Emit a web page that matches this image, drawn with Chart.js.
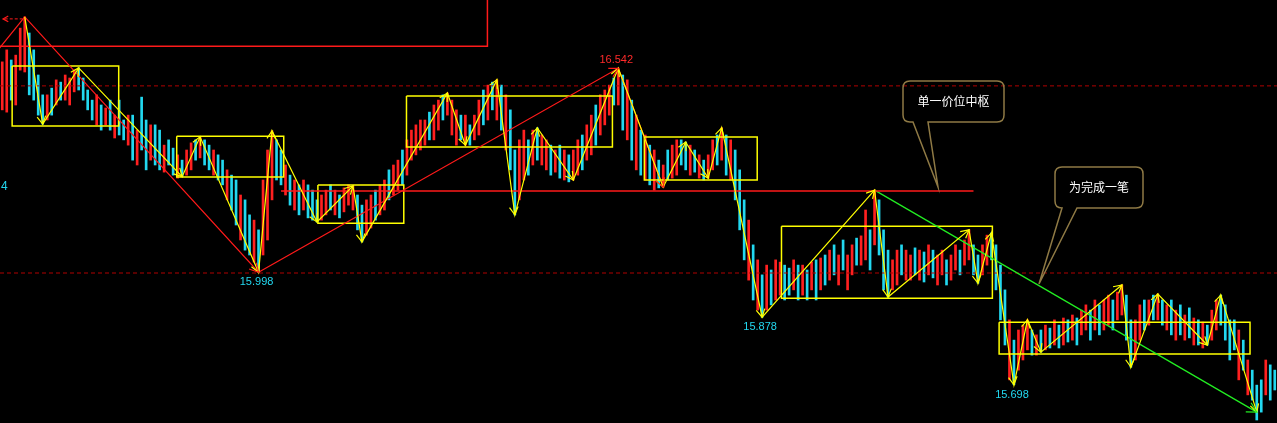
<!DOCTYPE html>
<html><head><meta charset="utf-8">
<script src="https://cdn.jsdelivr.net/npm/chart.js@4/dist/chart.umd.min.js"></script>
<style>html,body{margin:0;padding:0;background:#000;overflow:hidden}#wrap{width:1277px;height:423px;position:relative}</style>
</head><body><div id="wrap"><canvas id="c"></canvas></div>
<script>
// ---- data ----
const highs=[16.559,16.591,16.564,16.577,16.649,16.679,16.636,16.591,16.524,16.471,
16.471,16.489,16.511,16.505,16.524,16.516,16.537,16.543,16.516,16.484,
16.457,16.471,16.444,16.436,16.457,16.417,16.457,16.404,16.417,16.417,
16.377,16.465,16.404,16.391,16.391,16.377,16.337,16.351,16.329,16.311,
16.297,16.324,16.343,16.351,16.359,16.351,16.337,16.324,16.311,16.297,
16.271,16.257,16.244,16.204,16.191,16.151,16.137,16.111,16.244,16.324,
16.375,16.351,16.324,16.284,16.257,16.244,16.231,16.244,16.231,16.217,
16.191,16.204,16.217,16.231,16.217,16.204,16.223,16.231,16.228,16.204,
16.177,16.191,16.204,16.217,16.231,16.244,16.271,16.284,16.297,16.324,
16.351,16.377,16.391,16.404,16.404,16.425,16.444,16.457,16.471,16.476,
16.457,16.431,16.417,16.417,16.391,16.417,16.457,16.484,16.497,16.505,
16.511,16.497,16.471,16.431,16.324,16.351,16.377,16.351,16.377,16.383,
16.364,16.351,16.337,16.324,16.337,16.324,16.311,16.324,16.351,16.364,
16.391,16.417,16.444,16.471,16.484,16.497,16.516,16.542,16.524,16.511,
16.457,16.417,16.377,16.364,16.337,16.324,16.297,16.284,16.324,16.337,
16.351,16.351,16.345,16.337,16.324,16.311,16.297,16.311,16.351,16.364,
16.383,16.364,16.351,16.324,16.271,16.191,16.137,16.071,16.031,15.991,
16.017,16.004,16.031,16.025,16.017,16.009,16.031,16.017,16.017,16.004,
16.025,16.031,16.036,16.044,16.057,16.071,16.044,16.084,16.044,16.071,
16.089,16.095,16.164,16.111,16.217,16.191,16.111,16.057,16.031,16.057,
16.071,16.057,16.044,16.063,16.057,16.052,16.071,16.057,16.044,16.057,
16.031,16.044,16.071,16.057,16.084,16.111,16.071,16.044,16.071,16.097,
16.103,16.071,16.017,15.951,15.871,15.817,15.844,15.857,15.871,15.844,
15.831,15.844,15.857,15.849,15.871,15.857,15.876,15.871,15.884,15.876,
15.897,15.911,15.897,15.924,15.911,15.924,15.937,15.924,15.945,15.964,
15.937,15.871,15.871,15.911,15.924,15.924,15.937,15.940,15.924,15.911,
15.924,15.897,15.911,15.884,15.903,15.876,15.871,15.865,15.857,15.897,
15.924,15.937,15.911,15.871,15.871,15.844,15.817,15.764,15.737,15.697,
15.711,15.764,15.751,15.737];
const lows=[16.431,16.425,16.457,16.444,16.537,16.532,16.471,16.457,16.417,16.393,
16.404,16.417,16.444,16.457,16.457,16.444,16.479,16.484,16.457,16.431,
16.404,16.391,16.377,16.391,16.377,16.356,16.364,16.351,16.337,16.297,
16.284,16.324,16.271,16.297,16.284,16.271,16.265,16.284,16.257,16.249,
16.253,16.257,16.271,16.297,16.303,16.284,16.271,16.257,16.244,16.231,
16.191,16.164,16.124,16.084,16.057,16.044,16.025,15.998,16.044,16.084,
16.191,16.244,16.231,16.204,16.177,16.164,16.151,16.164,16.143,16.137,
16.132,16.137,16.151,16.164,16.151,16.143,16.159,16.177,16.164,16.111,
16.079,16.097,16.116,16.137,16.151,16.164,16.191,16.204,16.217,16.231,
16.257,16.297,16.311,16.324,16.337,16.351,16.351,16.377,16.404,16.417,
16.364,16.337,16.351,16.337,16.337,16.351,16.364,16.391,16.404,16.431,
16.404,16.377,16.324,16.271,16.151,16.191,16.244,16.257,16.284,16.297,
16.284,16.271,16.257,16.265,16.249,16.244,16.239,16.244,16.257,16.271,
16.297,16.311,16.337,16.364,16.391,16.417,16.444,16.444,16.377,16.351,
16.297,16.271,16.257,16.244,16.231,16.217,16.223,16.225,16.244,16.249,
16.257,16.284,16.271,16.257,16.265,16.249,16.244,16.249,16.271,16.284,
16.297,16.257,16.244,16.191,16.111,16.031,15.977,15.924,15.897,15.878,
15.897,15.911,15.924,15.937,15.924,15.937,15.951,15.924,15.937,15.924,
15.951,15.924,15.951,15.964,15.977,15.991,15.964,16.004,15.951,15.991,
16.017,16.017,16.031,16.004,16.071,16.044,15.951,15.932,15.951,15.964,
15.991,15.977,15.977,15.991,15.977,15.972,15.991,15.983,15.964,15.991,
15.964,15.977,16.004,15.991,16.017,16.031,15.991,15.969,15.991,16.017,
16.031,15.951,15.871,15.804,15.711,15.698,15.737,15.764,15.791,15.777,
15.777,15.785,15.791,15.796,15.804,15.796,15.804,15.812,15.817,15.804,
15.831,15.844,15.817,15.844,15.831,15.844,15.857,15.844,15.871,15.884,
15.817,15.745,15.764,15.817,15.844,15.857,15.871,15.871,15.857,15.844,
15.831,15.817,15.831,15.817,15.823,15.804,15.804,15.796,15.804,15.817,
15.844,15.857,15.817,15.764,15.791,15.711,15.737,15.671,15.657,15.604,
15.625,15.671,15.657,15.684];
const rising=[1,1,0,1,1,1,0,0,0,0, 1,0,1,0,1,1,1,0,0,0, 0,1,0,1,0,1,0,0,1,0,
1,0,0,1,0,0,1,0,0,1, 0,1,1,0,1,0,0,1,0,0, 1,0,0,1,0,0,1,0,1,1,
1,0,0,1,0,1,0,1,0,0, 0,1,1,0,1,0,1,1,1,0, 0,1,1,0,1,1,0,1,1,0,
1,1,1,1,1,0,1,1,0,1, 1,1,0,1,0,1,1,0,1,0, 1,0,1,0,0,1,1,0,1,0,
1,1,0,1,0,1,0,1,1,0, 1,1,0,1,1,1,0,1,0,1, 0,1,0,1,0,1,0,1,0,1,
1,0,0,1,0,1,0,1,1,0, 1,0,1,0,0,0,1,0,1,0, 1,0,1,1,0,0,1,0,1,0,
1,0,1,0,1,0,1,0,1,1, 0,1,1,0,1,0,0,0,1,1, 0,1,1,0,1,0,1,0,1,1,
0,1,1,0,1,1,0,0,1,1, 0,0,0,0,1,0,1,1,1,0, 1,0,1,0,1,0,1,0,1,0,
1,1,0,1,0,1,1,0,1,1, 0,0,1,1,0,1,0,1,0,1, 0,1,0,1,0,1,0,1,0,1,
1,0,0,0,0,1,0,1,0,0, 0,1,0,0];
// strokes (bi): [bar index, price]
const biPoints=[[5,16.679],[9,16.393],[17,16.543],[40,16.253],[44,16.359],[57,15.998],[60,16.375],
[70,16.132],[78,16.228],[80,16.079],[99,16.476],[103,16.337],[110,16.511],[114,16.151],[119,16.383],
[127,16.244],[137,16.542],[147,16.225],[152,16.345],[157,16.249],[160,16.383],[169,15.878],[194,16.217],
[197,15.932],[215,16.111],[217,15.969],[220,16.103],[225,15.698],[228,15.871],[231,15.785],[249,15.964],
[251,15.745],[257,15.940],[268,15.804],[271,15.937],[279,15.625]];
// segments (red)
const segPoints=[[-1,16.59],[5,16.679],[57,15.998],[137,16.542],[147,16.225]];
const levelLine=[[62,16.215],[216,16.215]];
const pendingSeg=[[194,16.217],[279,15.625]];
// pivots (zhongshu): [startIdx, endIdx, low, high]
const zhongshu=[[2.2,25.9,16.388,16.548],[38.8,62.6,16.252,16.361],[70.2,89.3,16.129,16.231],
[89.9,135.7,16.332,16.468],[142.8,167.9,16.244,16.359],[173.3,220.2,15.929,16.121],[221.7,277.5,15.780,15.865]];
const refLevels=[16.495,15.996];
const topBox={xEnd:107.9, price:16.601};
const extremeLabels=[[137,16.542,'up','#ff2a2a'],[57,15.998,'down','#22d8f0'],[169,15.878,'down','#22d8f0'],[225,15.698,'down','#22d8f0']];
const notes=[{text:'单一价位中枢',box:[903,81,1004,122],tail:[913,928,938,187]},
             {text:'为完成一笔',box:[1055,167,1143,208],tail:[1062,1077,1039,284]}];

// ---- build ----
const N=highs.length;
const candleData=highs.map((h,i)=>({x:i,y:[lows[i],h]}));
const candleColors=rising.map(r=>r?'#ff2020':'#22d8f0');
const toXY=a=>a.map(p=>({x:p[0],y:p[1]}));
const lineDs=(pts,color,w,order,dash)=>({type:'line',data:toXY(pts),borderColor:color,borderWidth:w,
  pointRadius:0,tension:0,fill:false,order:order,borderDash:dash||[],clip:false});
const datasets=[{type:'bar',data:candleData,backgroundColor:candleColors,borderWidth:0,barThickness:2,order:10,grouped:false}];
refLevels.forEach(v=>datasets.push(lineDs([[-0.5,v],[N-0.5,v]],'#b00000',1,9,[4,3])));
datasets.push(lineDs([[-0.5,topBox.price],[topBox.xEnd,topBox.price],[topBox.xEnd,16.75]],'#ff1a1a',1.5,5));
zhongshu.forEach(z=>datasets.push(lineDs([[z[0],z[3]],[z[1],z[3]],[z[1],z[2]],[z[0],z[2]],[z[0],z[3]]],'#ffff00',1.5,4)));
datasets.push(lineDs(segPoints,'#ff1a1a',1.2,3));
datasets.push(lineDs(levelLine,'#ff1a1a',1.5,3));
datasets.push(lineDs(pendingSeg,'#22ee22',1.2,3));
datasets.push(lineDs(biPoints,'#ffff00',1.2,1));

function arrowHead(ctx,x0,y0,x1,y1,len,color){
  const a=Math.atan2(y1-y0,x1-x0);
  ctx.save();ctx.strokeStyle=color;ctx.lineWidth=1.2;ctx.setLineDash([]);
  ctx.beginPath();
  ctx.moveTo(x1-len*Math.cos(a-0.5),y1-len*Math.sin(a-0.5));
  ctx.lineTo(x1,y1);
  ctx.lineTo(x1-len*Math.cos(a+0.5),y1-len*Math.sin(a+0.5));
  ctx.stroke();ctx.restore();
}
const overlay={id:'overlay',afterDatasetsDraw(chart){
  const ctx=chart.ctx,xs=chart.scales.x,ys=chart.scales.y;
  const P=p=>[xs.getPixelForValue(p[0]),ys.getPixelForValue(p[1])];
  for(let i=1;i<biPoints.length;i++){const a=P(biPoints[i-1]),b=P(biPoints[i]);arrowHead(ctx,a[0],a[1],b[0],b[1],9,'#ffff00');}
  for(let i=2;i<segPoints.length;i++){const a=P(segPoints[i-1]),b=P(segPoints[i]);arrowHead(ctx,a[0],a[1],b[0],b[1],10,'#ff1a1a');}
  {const a=P(pendingSeg[0]),b=P(pendingSeg[1]);arrowHead(ctx,a[0],a[1],b[0],b[1],11,'#22ee22');}
  // continuation arrow top-left
  {const s=P(segPoints[1]);ctx.save();ctx.strokeStyle='#ff1a1a';ctx.lineWidth=1;ctx.setLineDash([3,2]);
   ctx.beginPath();ctx.moveTo(s[0]-2,s[1]+2);ctx.lineTo(4,s[1]+2);ctx.stroke();ctx.restore();
   arrowHead(ctx,s[0],s[1]+2,3,s[1]+2,6,'#ff1a1a');}
  // labels
  ctx.save();ctx.font='11px "Liberation Sans", Arial, sans-serif';ctx.textAlign='center';ctx.textBaseline='middle';
  extremeLabels.forEach(l=>{const p=P(l);ctx.fillStyle=l[3];ctx.fillText(l[1].toFixed(3),p[0]-2,l[2]==='up'?p[1]-8:p[1]+10);});
  ctx.fillStyle='#22d8f0';ctx.font='12px "Liberation Sans", Arial, sans-serif';ctx.textAlign='left';ctx.fillText('4',1,187);
  ctx.restore();
  // callouts
  notes.forEach(n=>{
    const [x1,y1,x2,y2]=n.box,r=7,[t1,t2,tx,ty]=n.tail;
    ctx.save();ctx.strokeStyle='#8f7a45';ctx.lineWidth=1.5;ctx.beginPath();
    ctx.moveTo(x1+r,y1);ctx.lineTo(x2-r,y1);ctx.quadraticCurveTo(x2,y1,x2,y1+r);
    ctx.lineTo(x2,y2-r);ctx.quadraticCurveTo(x2,y2,x2-r,y2);
    ctx.lineTo(t2,y2);ctx.lineTo(tx,ty);ctx.lineTo(t1,y2);
    ctx.lineTo(x1+r,y2);ctx.quadraticCurveTo(x1,y2,x1,y2-r);
    ctx.lineTo(x1,y1+r);ctx.quadraticCurveTo(x1,y1,x1+r,y1);ctx.closePath();ctx.stroke();
    ctx.fillStyle='#ffffff';ctx.font='12px "Noto Sans CJK SC", sans-serif';ctx.textAlign='center';ctx.textBaseline='middle';
    ctx.fillText(n.text,(x1+x2)/2,(y1+y2)/2);ctx.restore();
  });
}};

new Chart(document.getElementById('c'),{
  type:'bar',
  data:{datasets},
  options:{responsive:true,maintainAspectRatio:false,animation:false,events:[],
    layout:{padding:0},
    plugins:{legend:{display:false},tooltip:{enabled:false}},
    scales:{x:{type:'linear',min:-0.5,max:N-0.5,display:false,offset:false},
            y:{type:'linear',min:15.596,max:16.724,display:false}}},
  plugins:[overlay]
});
</script></body></html>
